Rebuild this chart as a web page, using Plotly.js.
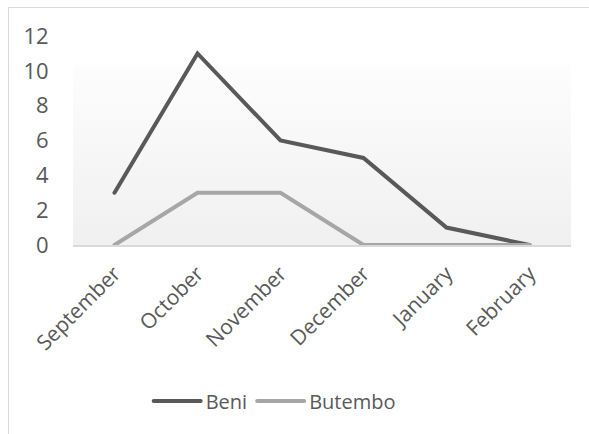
<!DOCTYPE html>
<html>
<head>
<meta charset="utf-8">
<script src="https://cdn.plot.ly/plotly-3.0.1.min.js"></script>
<style>
  html, body { margin:0; padding:0; background:#ffffff; overflow:hidden; }
  #wrap { position:relative; width:589px; height:434px; }
  #grad { position:absolute; left:73px; top:65px; width:498px; height:180px;
          background:linear-gradient(to bottom, #fdfdfd 0%, #f0f0f0 100%); }
  #frame { position:absolute; left:8px; top:7px; width:700px; height:600px;
           border-left:1px solid #d9d9d9; border-top:1px solid #d9d9d9; pointer-events:none; }
  #chart { position:absolute; left:0; top:0; width:589px; height:434px; }
  #chart path.js-line { stroke-linecap: round; }
</style>
</head>
<body>
<div id="wrap">
  <div id="grad"></div>
  <div id="frame"></div>
  <div id="chart"></div>
</div>
<script>
const months = ["September", "October", "November", "December", "January", "February"];
const beni = [3, 11, 6, 5, 1, 0];
const butembo = [0, 3, 3, 0, 0, 0];
const yTicks = [0, 2, 4, 6, 8, 10, 12];

const traces = [
  { x: months, y: beni, name: "Beni", type: "scatter", mode: "lines",
    line: { color: "#595959", width: 4 } },
  { x: months, y: butembo, name: "Butembo", type: "scatter", mode: "lines",
    line: { color: "#a6a6a6", width: 4 } }
];

const layout = {
  width: 589, height: 434,
  margin: { l: 73, r: 18, t: 36, b: 189 },
  paper_bgcolor: "rgba(0,0,0,0)",
  plot_bgcolor: "rgba(0,0,0,0)",
  font: { family: "Open Sans, sans-serif", color: "#595959", size: 20 },
  showlegend: true,
  legend: { orientation: "h", x: 0.405, xanchor: "center", y: -0.746, yanchor: "middle",
            itemwidth: 47,
            font: { size: 20, color: "#595959" }, bgcolor: "rgba(0,0,0,0)" },
  xaxis: {
    type: "category", range: [-0.5, 5.5], tickangle: -45,
    showgrid: false, zeroline: false,
    showline: true, linecolor: "#d9d9d9", linewidth: 2,
    ticks: "outside", ticklen: 6, tickcolor: "rgba(0,0,0,0)",
    tickfont: { size: 21, color: "#595959" }
  },
  yaxis: {
    range: [0, 12], tickvals: yTicks, ticktext: yTicks.map(String),
    showgrid: false, zeroline: false, showline: false,
    ticks: "outside", ticklen: 19, tickcolor: "rgba(0,0,0,0)",
    tickfont: { size: 22, color: "#595959" }
  }
};

Plotly.newPlot("chart", traces, layout, { displayModeBar: false, staticPlot: true });
</script>
</body>
</html>
